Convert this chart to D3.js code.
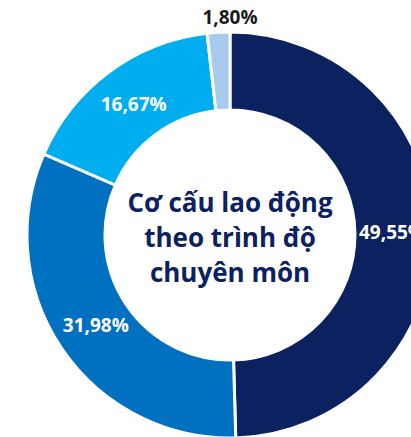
<!DOCTYPE html>
<html>
<head>
<meta charset="utf-8">
<script src="https://cdn.jsdelivr.net/npm/d3@7"></script>
<style>
  body { margin: 0; background: #fff; }
  svg { display: block; font-family: "Open Sans", sans-serif; }
</style>
</head>
<body>
<div id="chart"></div>
<script>
// Data
const categories = ["A", "B", "C", "D"];
const values = [49.55, 31.98, 16.67, 1.80];
const labels = ["49,55%", "31,98%", "16,67%", "1,80%"];
const titleLines = ["Cơ cấu lao động", "theo trình độ", "chuyên môn"];

const width = 411, height = 437;
const cx = 230, cy = 235;
const outerR = 203, innerR = 125;

const colors = ["#0b2160", "#0070c0", "#00aeef", "#a8caec"];

const svg = d3.select("#chart")
    .append("svg")
    .attr("width", width)
    .attr("height", height);

const g = svg.append("g")
    .attr("transform", "translate(" + cx + "," + cy + ")");

const pie = d3.pie()
    .sort(null)
    .value(d => d.value);

const data = categories.map((c, i) => ({ key: c, value: values[i], label: labels[i] }));
const arcs = pie(data);

const arc = d3.arc()
    .innerRadius(innerR)
    .outerRadius(outerR);

g.selectAll("path")
    .data(arcs)
    .join("path")
    .attr("d", arc)
    .attr("fill", (d, i) => colors[i])
    .attr("stroke", "#fff")
    .attr("stroke-width", 3);

// Labels inside the ring, small slice label above the ring at top
const labelArc = d3.arc().innerRadius(162).outerRadius(162);
const outerR2 = 218;

g.selectAll(".label")
    .data(arcs)
    .join("text")
    .attr("class", "label")
    .attr("transform", (d, i) => {
        let p;
        if (i === 3) {
            const a = d.endAngle;
            p = [Math.sin(a) * outerR2, -Math.cos(a) * outerR2];
        } else {
            p = labelArc.centroid(d);
        }
        return "translate(" + p + ")";
    })
    .attr("text-anchor", "middle")
    .attr("dy", "0.35em")
    .attr("font-size", "19px")
    .attr("font-weight", "bold")
    .attr("fill", (d, i) => i === 3 ? "#1a1a1a" : "#fff")
    .text(d => d.data.label);

// Center title
g.append("text")
    .attr("text-anchor", "middle")
    .attr("font-size", "26px")
    .attr("font-weight", "bold")
    .attr("fill", "#0b2160")
    .selectAll("tspan")
    .data(titleLines)
    .join("tspan")
    .attr("x", 0)
    .attr("y", (d, i) => -23 + i * 35)
    .text(d => d);
</script>
</body>
</html>
